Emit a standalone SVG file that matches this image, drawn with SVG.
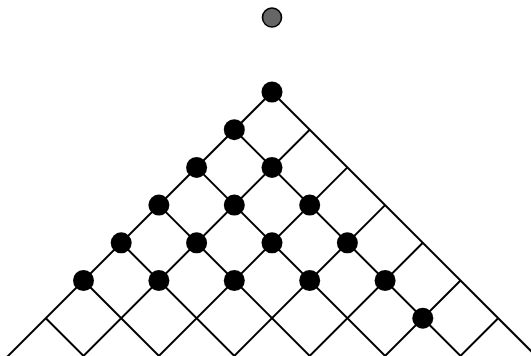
<svg xmlns="http://www.w3.org/2000/svg" width="531" height="356" viewBox="0 0 531 356">
<style>
.g{stroke:#000;stroke-width:2;fill:none}
.d{fill:#000}
</style>
<rect width="531" height="356" fill="#fff"/>
<g id="connectors" class="g">
<path d="M272,92 L580,400 M234.3,129.7 L504.6,400 M196.6,167.4 L429.2,400 M158.9,205.1 L353.8,400 M121.2,242.8 L278.4,400 M83.5,280.5 L203,400 M45.8,318.2 L127.6,400"/>
<path d="M272,92 L-36,400 M309.7,129.7 L39.4,400 M347.4,167.4 L114.8,400 M385.1,205.1 L190.2,400 M422.8,242.8 L265.6,400 M460.5,280.5 L341,400 M498.2,318.2 L416.4,400"/>
</g>
<g id="top"><circle cx="272" cy="17.5" r="9.5" fill="#666" stroke="#000" stroke-width="1.6"/></g>
<g id="n0" class="d"><circle cx="272" cy="92" r="10.5"/></g>
<g id="n1" class="d"><circle cx="234.3" cy="129.7" r="10.5"/></g>
<g id="n2" class="d"><circle cx="196.6" cy="167.4" r="10.5"/><circle cx="272" cy="167.4" r="10.5"/></g>
<g id="n3" class="d"><circle cx="158.9" cy="205.1" r="10.5"/><circle cx="234.3" cy="205.1" r="10.5"/><circle cx="309.7" cy="205.1" r="10.5"/></g>
<g id="n4" class="d"><circle cx="121.2" cy="242.8" r="10.5"/><circle cx="196.6" cy="242.8" r="10.5"/><circle cx="272" cy="242.8" r="10.5"/><circle cx="347.4" cy="242.8" r="10.5"/></g>
<g id="n5" class="d"><circle cx="83.5" cy="280.5" r="10.5"/><circle cx="158.9" cy="280.5" r="10.5"/><circle cx="234.3" cy="280.5" r="10.5"/><circle cx="309.7" cy="280.5" r="10.5"/><circle cx="385.1" cy="280.5" r="10.5"/></g>
<g id="n6" class="d"><circle cx="422.8" cy="318.2" r="10.5"/></g>
</svg>
